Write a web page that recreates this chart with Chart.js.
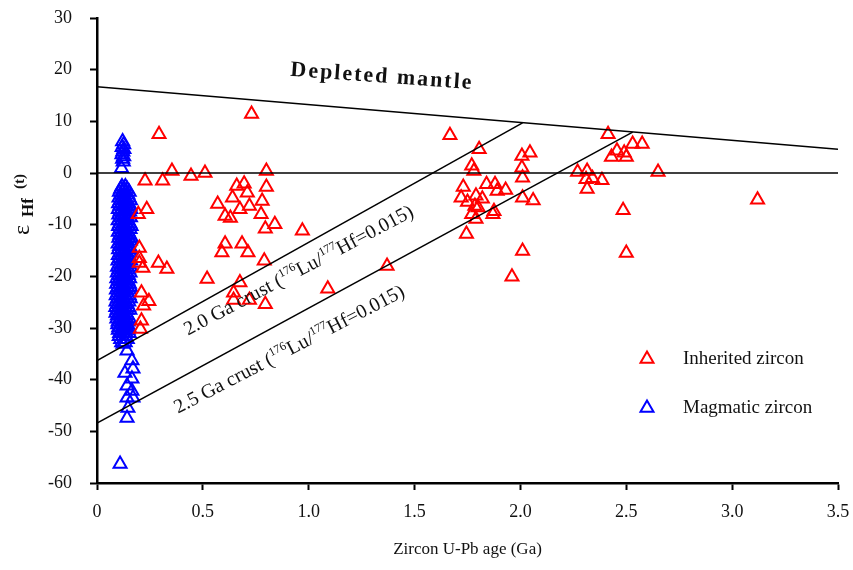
<!DOCTYPE html>
<html>
<head>
<meta charset="utf-8">
<script src="https://cdn.jsdelivr.net/npm/chart.js@4.4.0/dist/chart.umd.min.js"></script>
<style>
  body { margin: 0; background: #fff; }
  #wrap { width: 853px; height: 570px; }
</style>
</head>
<body>
<div id="wrap"><canvas id="chart" width="853" height="570"></canvas></div>
<script>
// age (Ga), eHf(t)
const inheritedZircon = [
  [0.195,-8.0],[0.235,-7.0],[0.20,-14.5],[0.20,-16.5],[0.20,-17.4],[0.217,-18.4],[0.21,-23.2],
  [0.245,-24.8],[0.22,-25.7],[0.21,-28.6],[0.205,-30.2],
  [0.293,7.5],[0.227,-1.5],[0.31,-1.5],[0.354,0.4],[0.444,-0.6],[0.51,0],[0.29,-17.4],[0.33,-18.6],[0.52,-20.5],
  [0.73,11.4],[0.80,0.4],[0.66,-2.5],[0.695,-2.1],[0.80,-2.7],[0.71,-3.8],[0.64,-4.8],[0.78,-5.4],
  [0.72,-6.4],[0.57,-6.0],[0.675,-7.0],[0.605,-8.3],[0.63,-8.7],[0.775,-8.0],[0.795,-10.8],[0.84,-9.9],
  [0.605,-13.7],[0.685,-13.7],[0.59,-15.4],[0.713,-15.4],[0.79,-17.0],[0.675,-21.2],[0.645,-23.2],
  [0.645,-24.6],[0.72,-24.6],[0.795,-25.4],
  [0.97,-11.2],[1.09,-22.4],[1.37,-18.0],
  [1.667,7.3],[1.805,4.6],[2.414,7.5],[2.007,3.3],[2.045,3.9],[2.007,1.0],[2.01,-0.9],[1.77,1.4],
  [1.78,0.4],[1.73,-2.7],[1.72,-4.8],[1.84,-2.2],[1.88,-2.2],[1.89,-3.5],[1.93,-3.3],[1.79,-4.4],
  [1.82,-5.0],[1.75,-5.6],[1.80,-6.7],[1.785,-6.4],[1.77,-8.0],[1.87,-8.0],[1.875,-7.4],[1.79,-8.9],
  [1.745,-11.8],[2.01,-4.8],[2.06,-5.3],[2.01,-15.1],[1.96,-20.1],
  [2.27,0.2],[2.315,0.4],[2.31,-1.2],[2.34,-1.0],[2.385,-1.4],[2.315,-3.1],[2.456,4.3],[2.43,3.1],
  [2.49,3.9],[2.53,5.6],[2.575,5.6],[2.50,3.1],[2.65,0.2],[2.485,-7.2],[2.50,-15.5],[3.12,-5.2]
];

const magmaticZircon = [
  [0.121,6.1],[0.126,5.5],[0.119,5.0],[0.127,4.6],[0.122,4.1],[0.118,3.6],[0.126,3.2],[0.121,2.7],[0.124,2.2],[0.116,0.9],
  [0.118,-2.6],[0.134,-2.6],
  [0.112,-3.1],[0.127,-3.1],[0.142,-3.1],
  [0.106,-3.7],[0.121,-3.7],[0.137,-3.7],[0.152,-3.7],
  [0.113,-4.2],[0.129,-4.2],[0.146,-4.2],
  [0.104,-4.8],[0.119,-4.8],[0.134,-4.8],[0.151,-4.8],
  [0.110,-5.3],[0.126,-5.3],[0.142,-5.3],[0.158,-5.3],
  [0.102,-5.9],[0.117,-5.9],[0.133,-5.9],[0.149,-5.9],
  [0.108,-6.4],[0.124,-6.4],[0.140,-6.4],[0.156,-6.4],
  [0.101,-7.0],[0.116,-7.0],[0.131,-7.0],[0.147,-7.0],[0.160,-7.0],
  [0.109,-7.5],[0.125,-7.5],[0.139,-7.5],[0.154,-7.5],
  [0.103,-8.1],[0.118,-8.1],[0.134,-8.1],[0.150,-8.1],
  [0.111,-8.6],[0.127,-8.6],[0.143,-8.6],[0.158,-8.6],
  [0.100,-9.2],[0.115,-9.2],[0.130,-9.2],[0.146,-9.2],
  [0.107,-9.8],[0.122,-9.8],[0.138,-9.8],[0.155,-9.8],
  [0.102,-10.3],[0.118,-10.3],[0.133,-10.3],[0.149,-10.3],[0.161,-10.3],
  [0.110,-10.9],[0.125,-10.9],[0.141,-10.9],[0.156,-10.9],
  [0.101,-11.4],[0.116,-11.4],[0.132,-11.4],[0.147,-11.4],
  [0.108,-12.0],[0.123,-12.0],[0.139,-12.0],[0.154,-12.0],
  [0.103,-12.6],[0.119,-12.6],[0.135,-12.6],[0.150,-12.6],[0.162,-12.6],
  [0.111,-13.1],[0.126,-13.1],[0.142,-13.1],[0.157,-13.1],
  [0.100,-13.7],[0.115,-13.7],[0.131,-13.7],[0.146,-13.7],
  [0.107,-14.2],[0.122,-14.2],[0.138,-14.2],[0.153,-14.2],
  [0.102,-14.8],[0.117,-14.8],[0.134,-14.8],[0.149,-14.8],[0.160,-14.8],
  [0.109,-15.4],[0.125,-15.4],[0.140,-15.4],[0.155,-15.4],
  [0.101,-15.9],[0.116,-15.9],[0.132,-15.9],[0.147,-15.9],
  [0.106,-16.5],[0.121,-16.5],[0.137,-16.5],[0.152,-16.5],
  [0.099,-17.0],[0.114,-17.0],[0.129,-17.0],[0.145,-17.0],[0.159,-17.0],
  [0.105,-17.6],[0.120,-17.6],[0.136,-17.6],[0.151,-17.6],
  [0.097,-18.2],[0.112,-18.2],[0.128,-18.2],[0.143,-18.2],[0.157,-18.2],
  [0.103,-18.7],[0.118,-18.7],[0.134,-18.7],[0.149,-18.7],
  [0.096,-19.3],[0.111,-19.3],[0.126,-19.3],[0.141,-19.3],[0.156,-19.3],
  [0.102,-19.8],[0.117,-19.8],[0.133,-19.8],[0.148,-19.8],
  [0.094,-20.4],[0.109,-20.4],[0.124,-20.4],[0.139,-20.4],[0.154,-20.4],
  [0.100,-20.9],[0.115,-20.9],[0.131,-20.9],[0.146,-20.9],
  [0.093,-21.5],[0.108,-21.5],[0.123,-21.5],[0.138,-21.5],[0.153,-21.5],
  [0.099,-22.1],[0.114,-22.1],[0.130,-22.1],[0.145,-22.1],[0.158,-22.1],
  [0.092,-22.6],[0.107,-22.6],[0.122,-22.6],[0.137,-22.6],[0.151,-22.6],
  [0.098,-23.2],[0.113,-23.2],[0.128,-23.2],[0.144,-23.2],
  [0.091,-23.7],[0.106,-23.7],[0.121,-23.7],[0.136,-23.7],[0.152,-23.7],
  [0.097,-24.3],[0.112,-24.3],[0.127,-24.3],[0.143,-24.3],[0.157,-24.3],
  [0.090,-24.9],[0.105,-24.9],[0.120,-24.9],[0.135,-24.9],[0.150,-24.9],
  [0.096,-25.4],[0.111,-25.4],[0.126,-25.4],[0.142,-25.4],
  [0.089,-26.0],[0.104,-26.0],[0.119,-26.0],[0.134,-26.0],[0.149,-26.0],
  [0.095,-26.5],[0.110,-26.5],[0.125,-26.5],[0.141,-26.5],[0.155,-26.5],
  [0.090,-27.1],[0.106,-27.1],[0.121,-27.1],[0.137,-27.1],
  [0.097,-27.6],[0.112,-27.6],[0.128,-27.6],[0.144,-27.6],
  [0.094,-28.2],[0.109,-28.2],[0.124,-28.2],[0.140,-28.2],[0.153,-28.2],
  [0.100,-28.8],[0.116,-28.8],[0.131,-28.8],[0.147,-28.8],
  [0.098,-29.3],[0.113,-29.3],[0.129,-29.3],[0.144,-29.3],
  [0.103,-29.9],[0.119,-29.9],[0.135,-29.9],[0.150,-29.9],
  [0.101,-30.4],[0.117,-30.4],[0.132,-30.4],[0.147,-30.4],
  [0.107,-31.0],[0.122,-31.0],[0.138,-31.0],[0.152,-31.0],
  [0.105,-31.6],[0.121,-31.6],[0.136,-31.6],
  [0.112,-32.2],[0.128,-32.2],[0.143,-32.2],
  [0.117,-32.8],[0.133,-32.8],
  [0.123,-33.1],[0.142,-34.4],[0.165,-36.3],[0.17,-37.9],[0.132,-38.7],[0.165,-39.8],[0.142,-41.2],
  [0.165,-42.2],[0.17,-43.5],[0.142,-43.5],[0.146,-45.5],[0.142,-47.4],[0.109,-56.3]
];

const depletedMantle = [[0, 16.7], [3.5, 4.6]];
const zeroLine = [[0, 0], [3.5, 0]];
const crust20 = [[0, -36.3], [2.01, 9.7]];
const crust25 = [[0, -48.4], [2.53, 7.9]];

const xTickLabels = ['0', '0.5', '1.0', '1.5', '2.0', '2.5', '3.0', '3.5'];
const yTickLabels = ['30', '20', '10', '0', '-10', '-20', '-30', '-40', '-50', '-60'];

const serif = "'Liberation Serif', 'Times New Roman', serif";
const toXY = (arr) => arr.map((p) => ({ x: p[0], y: p[1] }));

const lineDataset = (data) => ({
  type: 'line',
  data: toXY(data),
  borderColor: '#000',
  borderWidth: 1.5,
  pointRadius: 0,
  fill: false,
  showLine: true,
});

// draws a run of text pieces along a (possibly rotated) baseline
function drawRich(ctx, pieces, px, py, angle) {
  ctx.save();
  ctx.translate(px, py);
  ctx.rotate(angle);
  ctx.textBaseline = 'alphabetic';
  ctx.textAlign = 'left';
  let cx = 0;
  pieces.forEach((p) => {
    ctx.font = p.font;
    ctx.fillText(p.text, cx, p.dy || 0);
    cx += ctx.measureText(p.text).width;
  });
  ctx.restore();
}

const annotations = {
  id: 'annotations',
  afterDraw(chart) {
    const { ctx, scales: { x, y } } = chart;
    ctx.save();
    ctx.fillStyle = '#111';

    const angleOf = (a, b) => Math.atan2(y.getPixelForValue(b[1]) - y.getPixelForValue(a[1]),
      x.getPixelForValue(b[0]) - x.getPixelForValue(a[0]));

    // Depleted mantle
    const dmA = [0.912, 18.8], dmB = [1.786, 16.2];
    ctx.save();
    ctx.letterSpacing = '2px';
    drawRich(ctx, [{ text: 'Depleted mantle', font: 'bold 22px ' + serif }],
      x.getPixelForValue(dmA[0]), y.getPixelForValue(dmA[1]), angleOf(dmA, dmB));
    ctx.restore();

    const crustLabel = (age) => [
      { text: age + ' Ga crust (', font: '20px ' + serif },
      { text: '176', font: '12px ' + serif, dy: -8 },
      { text: 'Lu/', font: '20px ' + serif },
      { text: '177', font: '12px ' + serif, dy: -8 },
      { text: 'Hf=0.015)', font: '20px ' + serif },
    ];
    const c20A = [0.43, -31.5], c20B = [1.526, -7.7];
    drawRich(ctx, crustLabel('2.0'), x.getPixelForValue(c20A[0]), y.getPixelForValue(c20A[1]), angleOf(c20A, c20B));
    const c25A = [0.383, -46.6], c25B = [1.502, -22.8];
    drawRich(ctx, crustLabel('2.5'), x.getPixelForValue(c25A[0]), y.getPixelForValue(c25A[1]), angleOf(c25A, c25B));

    // y axis title: eHf(t)
    ctx.save();
    ctx.translate(33, 235);
    ctx.rotate(-Math.PI / 2);
    ctx.font = '24px ' + serif;
    ctx.fillText('\u03b5', 0, -4);
    ctx.font = 'bold 17px ' + serif;
    ctx.fillText('Hf', 18, 0);
    ctx.font = 'bold 15px ' + serif;
    ctx.fillText('(t)', 46, -9);
    ctx.restore();

    // legend
    const items = [
      { label: 'Inherited zircon', color: '#ff0000', y: 359 },
      { label: 'Magmatic zircon', color: '#0000ff', y: 408 },
    ];
    items.forEach((it) => {
      ctx.strokeStyle = it.color;
      ctx.fillStyle = 'rgba(0,0,0,0)';
      ctx.lineWidth = 2;
      Chart.helpers.drawPoint(ctx, { pointStyle: 'triangle', radius: 7.5, borderWidth: 2, rotation: 0 }, 647, it.y);
      ctx.fillStyle = '#111';
      ctx.font = '19px ' + serif;
      ctx.textBaseline = 'middle';
      ctx.textAlign = 'left';
      ctx.fillText(it.label, 683, it.y);
    });
    ctx.restore();
  },
};

new Chart(document.getElementById('chart'), {
  type: 'scatter',
  data: {
    datasets: [
      lineDataset(depletedMantle),
      lineDataset(zeroLine),
      lineDataset(crust20),
      lineDataset(crust25),
      {
        label: 'Inherited zircon',
        data: toXY(inheritedZircon),
        pointStyle: 'triangle',
        pointRadius: 7.5,
        borderWidth: 2,
        borderColor: '#ff0000',
        backgroundColor: 'rgba(0,0,0,0)',
      },
      {
        label: 'Magmatic zircon',
        data: toXY(magmaticZircon),
        pointStyle: 'triangle',
        pointRadius: 7.5,
        borderWidth: 2,
        borderColor: '#0000ff',
        backgroundColor: 'rgba(0,0,0,0)',
      },
    ],
  },
  options: {
    responsive: false,
    animation: false,
    events: [],
    layout: { padding: { top: 18, right: 15, bottom: 0, left: 0 } },
    plugins: {
      legend: { display: false },
      tooltip: { enabled: false },
    },
    scales: {
      x: {
        type: 'linear',
        min: 0,
        max: 3.5,
        afterFit: (s) => { s.height = 87; s.paddingLeft = 0; s.paddingRight = 0; },
        ticks: {
          stepSize: 0.5,
          padding: 11,
          color: '#111',
          font: { family: serif, size: 18 },
          callback: (v, i) => xTickLabels[i],
        },
        grid: { drawOnChartArea: false, drawTicks: true, tickLength: 7, tickWidth: 2, tickColor: '#000' },
        border: { display: true, color: '#000', width: 2.5 },
        title: {
          display: true,
          text: 'Zircon U-Pb age (Ga)',
          color: '#111',
          font: { family: serif, size: 17 },
          padding: { top: 0, bottom: 10 },
        },
      },
      y: {
        type: 'linear',
        min: -60,
        max: 30,
        afterFit: (s) => { s.width = 97; s.paddingTop = 0; s.paddingBottom = 0; },
        ticks: {
          stepSize: 10,
          padding: 18,
          color: '#111',
          font: { family: serif, size: 18 },
          callback: (v, i, ticks) => yTickLabels[ticks.length - 1 - i],
        },
        grid: { drawOnChartArea: false, drawTicks: true, tickLength: 7, tickWidth: 2, tickColor: '#000' },
        border: { display: true, color: '#000', width: 2.5 },
      },
    },
  },
  plugins: [annotations],
});
</script>
</body>
</html>
